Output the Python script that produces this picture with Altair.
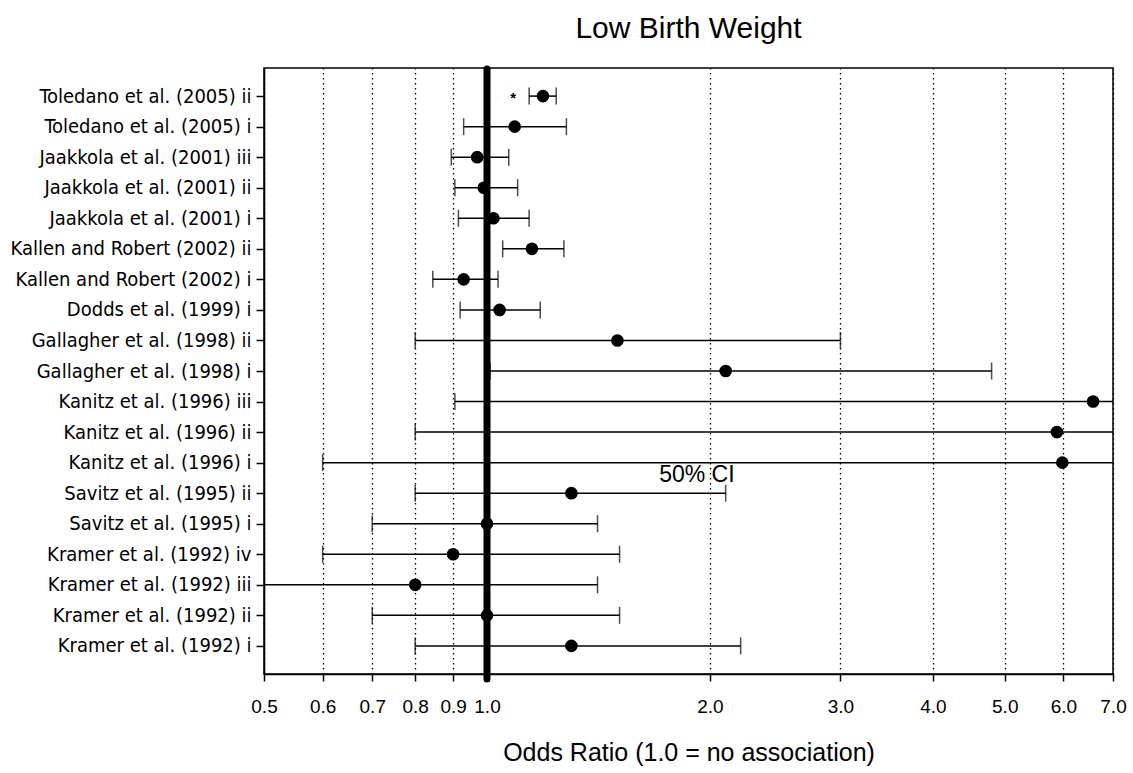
import altair as alt
import pandas as pd

studies = [
    "Toledano et al. (2005) ii",
    "Toledano et al. (2005) i",
    "Jaakkola et al. (2001) iii",
    "Jaakkola et al. (2001) ii",
    "Jaakkola et al. (2001) i",
    "Kallen and Robert (2002) ii",
    "Kallen and Robert (2002) i",
    "Dodds et al. (1999) i",
    "Gallagher et al. (1998) ii",
    "Gallagher et al. (1998) i",
    "Kanitz et al. (1996) iii",
    "Kanitz et al. (1996) ii",
    "Kanitz et al. (1996) i",
    "Savitz et al. (1995) ii",
    "Savitz et al. (1995) i",
    "Kramer et al. (1992) iv",
    "Kramer et al. (1992) iii",
    "Kramer et al. (1992) ii",
    "Kramer et al. (1992) i",
]
odds_ratio = [1.19, 1.09, 0.97, 0.99, 1.02, 1.15, 0.93, 1.04, 1.50, 2.10,
              6.58, 5.88, 5.98, 1.30, 1.00, 0.90, 0.80, 1.00, 1.30]
# None = interval runs past the edge of the axis
ci_low = [1.14, 0.93, 0.895, 0.905, 0.915, 1.05, 0.845, 0.92, 0.80, 1.01,
          0.905, 0.80, 0.60, 0.80, 0.70, 0.60, None, 0.70, 0.80]
ci_high = [1.24, 1.28, 1.07, 1.10, 1.14, 1.27, 1.035, 1.18, 3.00, 4.80,
           None, None, None, 2.10, 1.41, 1.51, 1.41, 1.51, 2.20]
tick_values = [0.5, 0.6, 0.7, 0.8, 0.9, 1.0, 2.0, 3.0, 4.0, 5.0, 6.0, 7.0]
x_min, x_max = 0.5, 7.0
annotation = {"text": "50% CI", "x": 1.92, "study": "Kanitz et al. (1996) i"}
star = {"text": "*", "x": 1.085, "study": "Toledano et al. (2005) ii"}

df = pd.DataFrame({
    "study": studies,
    "or": odds_ratio,
    "lo": [v if v is not None else x_min for v in ci_low],
    "hi": [v if v is not None else x_max for v in ci_high],
})
caps = pd.DataFrame(
    [{"study": s, "v": v} for s, v in zip(studies, ci_low) if v is not None]
    + [{"study": s, "v": v} for s, v in zip(studies, ci_high) if v is not None]
)

label_font = "Liberation Sans Narrow, Arial Narrow, DejaVu Sans Condensed, Liberation Sans"
main_font = "Liberation Sans, Arial, sans-serif"

xscale = alt.Scale(type="log", domain=[x_min, x_max], nice=False, zero=False)
yscale = alt.Scale(type="point", padding=0.92)
ysort = studies
XTITLE = "Odds Ratio (1.0 = no association)"

x_axis = alt.Axis(values=tick_values, format=".1f", title=XTITLE,
                  grid=True, gridDash=[1.5, 3.5], gridColor="black",
                  gridWidth=1.3, gridOpacity=1,
                  tickSize=7, tickColor="black", tickWidth=1.5,
                  domainColor="black", domainWidth=1.5,
                  labelFont=main_font, labelFontSize=19,
                  labelColor="black", labelPadding=16,
                  labelFlush=False, labelOverlap=False,
                  titleFont=main_font, titleFontSize=25,
                  titleFontWeight="normal", titleColor="black",
                  titlePadding=24)
y_axis = alt.Axis(title=None, labelFont=label_font, labelFontSize=20,
                  labelColor="black", tickSize=8, tickColor="black",
                  tickWidth=1.5, domainColor="black", domainWidth=1.5,
                  labelPadding=5, grid=False, labelLimit=400)


def X(field):
    return alt.X(field, scale=xscale, axis=x_axis, title=XTITLE)


def Y():
    return alt.Y("study:N", sort=ysort, scale=yscale, axis=y_axis, title=None)


base = alt.Chart(df)

ci = base.mark_rule(color="black", strokeWidth=1.5, clip=True).encode(
    x=X("lo:Q"), x2="hi:Q", y=Y(),
)

cap = alt.Chart(caps).mark_tick(color="black", thickness=1.5, size=17,
                                orient="vertical").encode(
    x=X("v:Q"), y=Y(),
)

ref = alt.Chart(pd.DataFrame({"x": [1.0]})).mark_rule(
    color="black", strokeWidth=7, strokeCap="round", clip=False).encode(
    x=X("x:Q"),
    y=alt.value(1),
    y2=alt.value(611),
)

pts = base.mark_circle(color="black", opacity=1, size=160).encode(
    x=X("or:Q"), y=Y(),
)

ann = alt.Chart(pd.DataFrame([annotation])).mark_text(
    font=main_font, fontSize=23, color="black", dy=12).encode(
    x=X("x:Q"), y=Y(), text="text:N",
)

st = alt.Chart(pd.DataFrame([star])).mark_text(
    font=main_font, fontSize=15, fontWeight="bold", color="black", dy=2).encode(
    x=X("x:Q"), y=Y(), text="text:N",
)

chart = alt.layer(ci, cap, ref, pts, ann, st).properties(
    width=849, height=606,
    background="white",
    title=alt.TitleParams("Low Birth Weight", font=main_font, fontSize=30,
                          fontWeight="normal", color="black", anchor="middle",
                          offset=22),
    autosize=alt.AutoSizeParams(type="none"),
    padding={"left": 264, "top": 68, "right": 20, "bottom": 99},
).configure_view(stroke="black", strokeWidth=1.5)

chart.save("out.html", embed_options={"renderer": "svg", "actions": False})
